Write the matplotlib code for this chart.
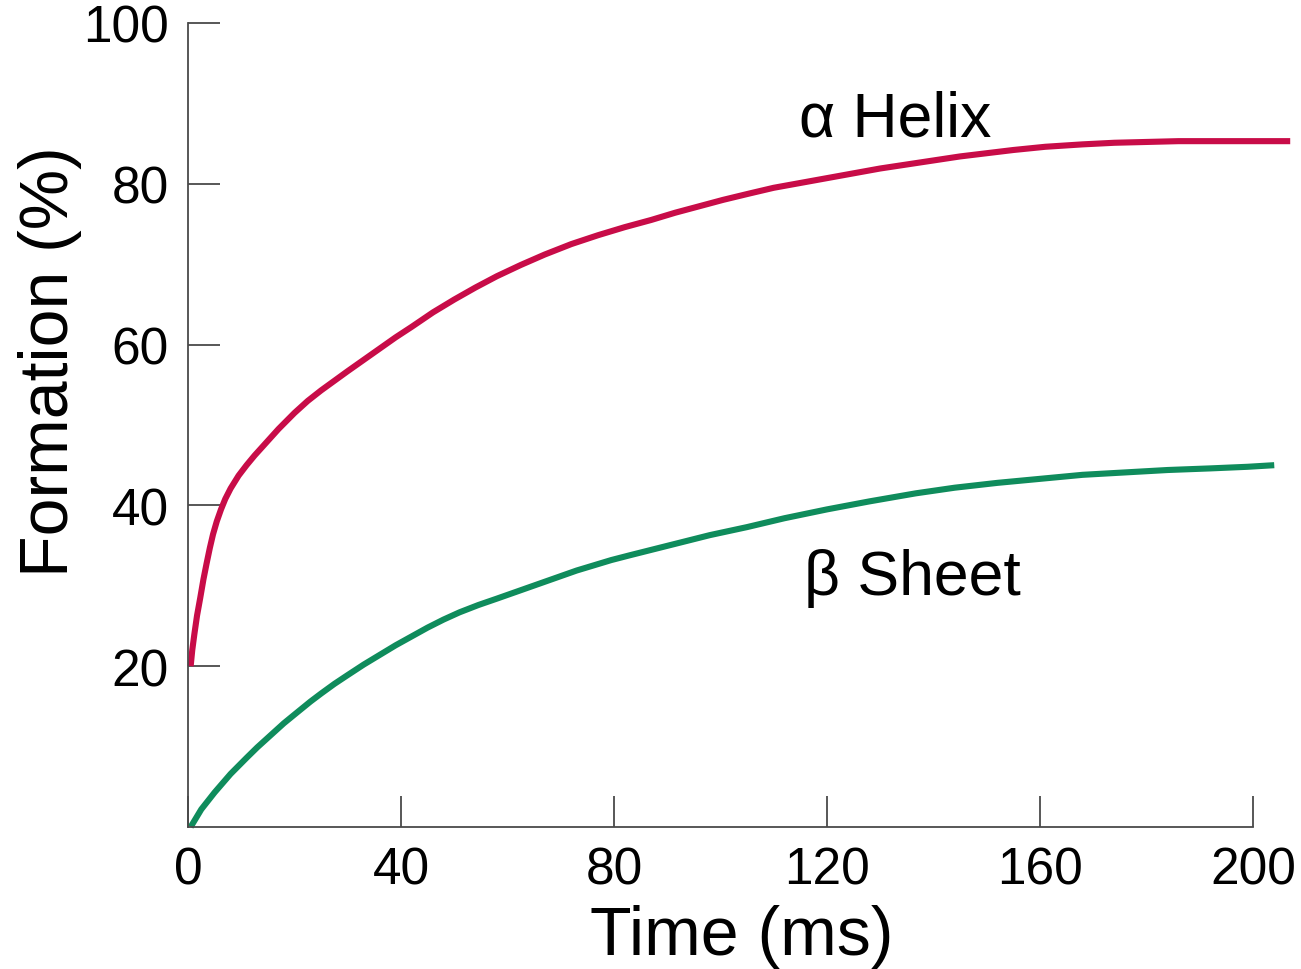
import matplotlib
matplotlib.use("Agg")
import matplotlib.pyplot as plt

# values
helix_t = [0.5, 0.8, 1.2, 1.7, 2.3, 2.9, 3.5, 4.1, 4.7, 5.4, 6.2, 7, 8, 9.5, 11, 12.5,
           14, 17, 20, 22.5, 25, 27.5, 30, 33, 36, 39, 42, 46, 50, 54, 58, 62.5, 67,
           72, 77, 82, 87, 91.5, 96, 100.5, 105.5, 110, 115, 120, 125, 130, 135, 140,
           145, 150, 155, 161, 168, 174, 180, 186, 192, 200, 207]
helix_v = [20, 22, 24, 26.3, 28.5, 30.8, 32.8, 34.7, 36.4, 38, 39.5, 40.8, 42.1, 43.7,
           45, 46.2, 47.3, 49.5, 51.5, 53, 54.3, 55.5, 56.7, 58.1, 59.5, 60.9, 62.2,
           64, 65.6, 67.1, 68.5, 69.9, 71.2, 72.5, 73.6, 74.6, 75.5, 76.4, 77.2, 78,
           78.8, 79.5, 80.1, 80.7, 81.3, 81.9, 82.4, 82.9, 83.4, 83.8, 84.2, 84.6,
           84.9, 85.1, 85.2, 85.3, 85.3, 85.3, 85.3]

sheet_t = [0.5, 2.5, 5, 8, 11, 13, 15.5, 18, 20.4, 23, 25, 27.5, 30, 33, 36, 39, 42,
           45, 48, 51, 54.5, 58, 61, 64, 67, 70, 73, 76, 79.5, 83, 86, 89, 92, 98,
           105, 112, 120, 128, 136.7, 144, 152, 160, 168, 176, 184, 192, 199, 204]
sheet_v = [0, 2.2, 4.3, 6.6, 8.6, 9.9, 11.4, 12.9, 14.2, 15.6, 16.6, 17.8, 18.9, 20.2,
           21.4, 22.6, 23.7, 24.8, 25.8, 26.7, 27.6, 28.4, 29.1, 29.8, 30.5, 31.2,
           31.9, 32.5, 33.2, 33.8, 34.3, 34.8, 35.3, 36.3, 37.3, 38.4, 39.5, 40.5,
           41.5, 42.2, 42.8, 43.3, 43.8, 44.1, 44.4, 44.6, 44.8, 45.0]

x_ticks = [0, 40, 80, 120, 160, 200]
y_ticks = [20, 40, 60, 80, 100]

plt.rcParams["font.family"] = ["Liberation Sans", "DejaVu Sans"]

fig = plt.figure(figsize=(13.01, 9.70), dpi=100)
ax = fig.add_axes([0.1445, 0.1464, 0.8513, 0.8289])

ax.plot(helix_t, helix_v, color="#c80c48", lw=4.4, solid_capstyle="butt",
        solid_joinstyle="round", clip_on=False)
ax.plot(sheet_t, sheet_v, color="#0f8c5c", lw=4.4, solid_capstyle="butt",
        solid_joinstyle="round", clip_on=False)

ax.set_xlim(0, 208)
ax.set_ylim(0, 100)
ax.set_xticks(x_ticks)
ax.set_yticks(y_ticks)

for side in ["top", "right"]:
    ax.spines[side].set_visible(False)
for side in ["left", "bottom"]:
    ax.spines[side].set_color("#4a4a4a")
    ax.spines[side].set_linewidth(1.3)
ax.spines["bottom"].set_bounds(0, 200)

ax.tick_params(axis="both", direction="in", colors="#4a4a4a", width=1.3,
               labelcolor="black", labelsize=37)
ax.tick_params(axis="y", length=23, pad=14)
ax.tick_params(axis="x", length=22, pad=13)

ax.set_xlabel("Time (ms)", fontsize=49, va="center")
ax.set_ylabel("Formation (%)", fontsize=49, va="center")
ax.xaxis.set_label_coords(0.5, -0.136)
ax.yaxis.set_label_coords(-0.125, 0.58)

ax.text(132.8, 88, "α Helix", fontsize=45, ha="center", va="center")
ax.text(136, 31, "β Sheet", fontsize=45, ha="center", va="center")

fig.savefig("out.png", dpi=100)
